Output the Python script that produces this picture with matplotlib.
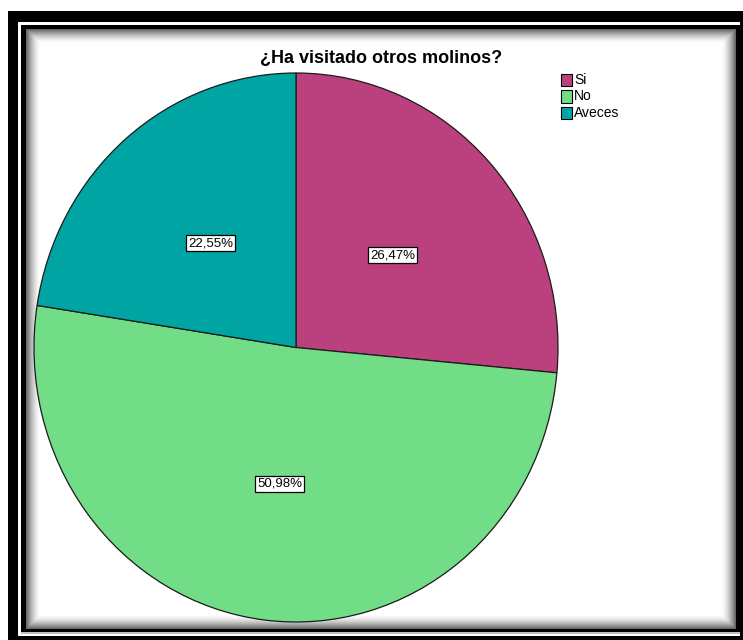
import numpy as np
import matplotlib
matplotlib.use("Agg")
import matplotlib.pyplot as plt
from matplotlib.patches import Rectangle

plt.rcParams['font.family'] = ['Liberation Sans', 'DejaVu Sans']

# Survey answers and their shares (%)
categories = ["Si", "No", "Aveces"]
shares = [26.47, 50.98, 22.55]
colors = ["#BA417E", "#71DD86", "#00A5A3"]
title = "¿Ha visitado otros molinos?"

W, H = 743, 640
fig = plt.figure(figsize=(W / 100, H / 100), dpi=100)

# ---- double black frame with a soft inner shadow ----
img = np.ones((H, W))
img[11:, 8:] = 0.0              # outer black band
img[22:636, 18:740] = 1.0       # white gap
img[25:632, 21:740] = 0.0       # inner black frame
img[632:634, 21:740] = 0.75     # light edge under the inner frame
yy, xx = np.mgrid[0:H, 0:W]
x0, x1, y0, y1 = 26, 736, 29, 629
d = np.minimum.reduce([xx - x0, x1 - 1 - xx, yy - y0, y1 - 1 - yy]).astype(float)
shade = 1 - 0.6 * np.clip(1 - d / 14.0, 0, 1) ** 1.6
inner = (xx >= x0) & (xx < x1) & (yy >= y0) & (yy < y1)
img[inner] = shade[inner]

bg = fig.add_axes([0, 0, 1, 1])
bg.imshow(img, cmap="gray", vmin=0, vmax=1, interpolation="nearest", aspect="auto")
bg.set_axis_off()

# ---- pie ----
left, right, top, bottom = 34, 558, 73, 622
ax = fig.add_axes([left / W, 1 - bottom / H, (right - left) / W, (bottom - top) / H])
wedges, texts, autotexts = ax.pie(
    shares, colors=colors, startangle=90, counterclock=False,
    autopct=lambda p: f"{p:.2f}%".replace(".", ","), pctdistance=0.5,
    wedgeprops=dict(edgecolor="#1a1a1a", linewidth=0.9),
    textprops=dict(fontsize=9.5, color="black"),
)
for t in autotexts:
    t.set_bbox(dict(boxstyle="square,pad=0.15", facecolor="white", edgecolor="black", linewidth=0.9))
ax.set_aspect("auto")
ax.set_xlim(-1, 1)
ax.set_ylim(-1, 1)
ax.set_axis_off()

# ---- title ----
fig.text(381 / W, 1 - 58 / H, title, ha="center", va="center", fontsize=13,
         fontweight="bold")

# ---- legend ----
for i, (lab, c) in enumerate(zip(categories, colors)):
    yc = 80 + i * 16.5
    fig.patches.append(Rectangle((561 / W, 1 - (yc + 6) / H), 11 / W, 12 / H,
                                 transform=fig.transFigure, facecolor=c,
                                 edgecolor="black", linewidth=0.8))
    fig.text(574 / W, 1 - yc / H, lab, ha="left", va="center", fontsize=10)

fig.savefig("out.png", dpi=100)
